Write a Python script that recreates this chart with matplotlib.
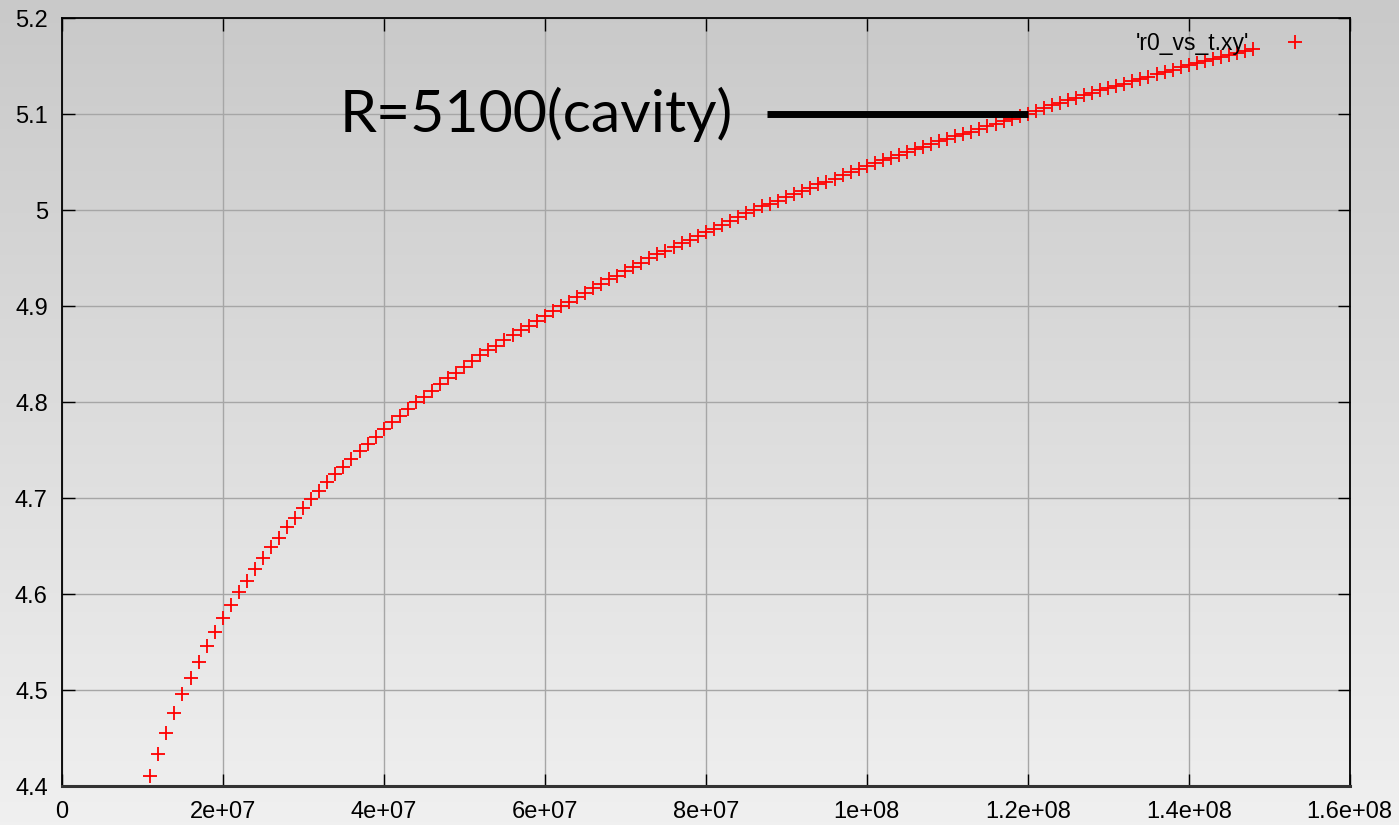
import numpy as np
import matplotlib
matplotlib.use("Agg")
import matplotlib.pyplot as plt
from matplotlib.colors import LinearSegmentedColormap

plt.rcParams["font.family"] = ["Liberation Sans", "DejaVu Sans"]

# ---- data ----
t_values = [v * 1e6 for v in range(11, 149)]
r0_values = [
    4.411, 4.434, 4.456, 4.476, 4.496, 4.513, 4.530, 4.546, 4.561, 4.575,   # 11-20
    4.589, 4.602, 4.614, 4.626, 4.638, 4.649, 4.659, 4.670, 4.680, 4.690,   # 21-30
    4.699, 4.708, 4.717, 4.725, 4.733, 4.741, 4.749, 4.757, 4.764, 4.772,   # 31-40
    4.779, 4.786, 4.793, 4.800, 4.806, 4.812, 4.819, 4.825, 4.831, 4.837,   # 41-50
    4.843, 4.849, 4.854, 4.859, 4.865, 4.870, 4.875, 4.880, 4.885, 4.890,   # 51-60
    4.895, 4.900, 4.905, 4.910, 4.914, 4.919, 4.923, 4.928, 4.932, 4.937,   # 61-70
    4.941, 4.945, 4.950, 4.954, 4.958, 4.962, 4.966, 4.969, 4.973, 4.977,   # 71-80
    4.981, 4.985, 4.989, 4.993, 4.997, 5.000, 5.004, 5.007, 5.010, 5.014,   # 81-90
    5.017, 5.020, 5.023, 5.027, 5.030, 5.033, 5.037, 5.040, 5.043, 5.046,   # 91-100
    5.049, 5.052, 5.055, 5.058, 5.061, 5.064, 5.066, 5.069, 5.072, 5.074,   # 101-110
    5.077, 5.080, 5.082, 5.085, 5.088, 5.090, 5.093, 5.095, 5.098, 5.100,   # 111-120
    5.103, 5.107, 5.110, 5.112, 5.115, 5.117, 5.120, 5.122, 5.125, 5.127,   # 121-130
    5.130, 5.132, 5.135, 5.137, 5.139, 5.142, 5.144, 5.146, 5.149, 5.151,   # 131-140
    5.153, 5.156, 5.158, 5.160, 5.162, 5.164, 5.166, 5.168,                 # 141-148
]
series_label = "'r0_vs_t.xy'"
x_ticks = [0, 2e7, 4e7, 6e7, 8e7, 1e8, 1.2e8, 1.4e8, 1.6e8]
x_tick_labels = ["0", "2e+07", "4e+07", "6e+07", "8e+07", "1e+08", "1.2e+08", "1.4e+08", "1.6e+08"]
y_ticks = [4.4, 4.5, 4.6, 4.7, 4.8, 4.9, 5.0, 5.1, 5.2]
y_tick_labels = ["4.4", "4.5", "4.6", "4.7", "4.8", "4.9", "5", "5.1", "5.2"]
annotation_text = "R=5100(cavity)"
annotation_line_x = [8.76e7, 1.2e8]
annotation_line_y = [5.1, 5.1]

# ---- figure ----
W, H = 1399, 825
fig = plt.figure(figsize=(W / 100, H / 100), dpi=100)

# background gradient
bg = fig.add_axes([0, 0, 1, 1], zorder=-10)
grad = np.linspace(0, 1, 256).reshape(-1, 1)
cmap = LinearSegmentedColormap.from_list("bg", ["#c9c9c9", "#f0f0f0"])
bg.imshow(grad, aspect="auto", cmap=cmap, extent=[0, 1, 0, 1], origin="upper")
bg.set_axis_off()

ax = fig.add_axes([61.7 / W, 1 - 786.3 / H, (1349.7 - 61.7) / W, (786.3 - 18.3) / H])
ax.patch.set_alpha(0)

ax.set_xlim(0, 1.6e8)
ax.set_ylim(4.4, 5.2)
ax.tick_params(direction="in", length=9, width=1, color="black",
               top=True, right=True, labelsize=17)
ax.tick_params(axis="x", pad=10.5)
ax.tick_params(axis="y", pad=10)
ax.set_xticks(x_ticks)
ax.set_xticklabels(x_tick_labels, fontsize=17)
ax.set_yticks(y_ticks)
ax.set_yticklabels(y_tick_labels, fontsize=17)
ax.grid(True, color="#a6a6a6", linewidth=1.0)
ax.set_axisbelow(True)
for s in ax.spines.values():
    s.set_color("black")
    s.set_linewidth(1.3)
ax.spines["bottom"].set_linewidth(2.2)
ax.spines["bottom"].set_color("#333333")

ax.plot(t_values, r0_values, linestyle="none", marker="+", markersize=9.5,
        markeredgewidth=1.3, color="#ff0000", label=series_label, zorder=3)

leg = ax.legend(loc="upper right", frameon=False,
                prop={"family": "Liberation Sans", "size": 16.5},
                markerfirst=False, handlelength=1.2, handletextpad=1.4,
                borderaxespad=0.3, bbox_to_anchor=(0.981, 1.003))

ax.plot(annotation_line_x, annotation_line_y, color="black", linewidth=5,
        solid_capstyle="butt", zorder=4)
ax.text(0.345e8, 5.1, annotation_text, fontsize=42.5, family="Lato",
        ha="left", va="center", color="black")

fig.savefig("out.png", dpi=100)
